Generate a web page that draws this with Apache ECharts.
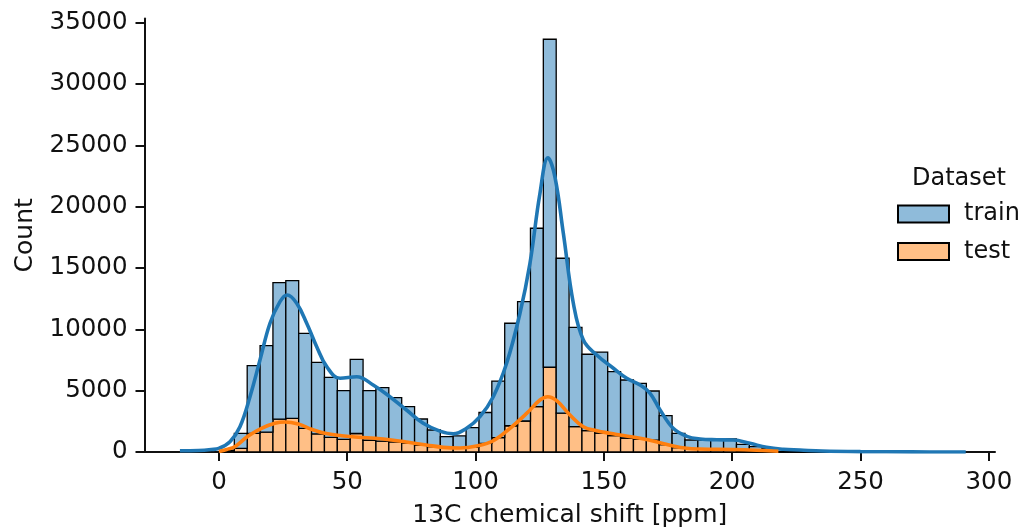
<!DOCTYPE html>
<html>
<head>
<meta charset="utf-8">
<script src="https://cdn.jsdelivr.net/npm/echarts@6/dist/echarts.min.js"></script>
<style>
  html, body { margin: 0; padding: 0; background: #fff; }
  #chart { width: 1025px; height: 531px; }
</style>
</head>
<body>
<div id="chart"></div>
<script>
// ---- data ----
const binStart = 0.98;      // left edge of first bin (ppm)
const binWidth = 5.017;     // bin width (ppm)
const testCounts = [60, 300, 1525, 1620, 2680, 2750, 1920, 1470, 1200, 1035, 1510, 960, 880, 830, 740, 560, 450, 340, 340, 400, 700, 1170, 2140, 2530, 3700, 6910, 3170, 2065, 1740, 1550, 1340, 1140, 1050, 960, 600, 365, 260, 245, 180, 160, 120, 80, 50, 30, 20, 10, 5];
const trainCounts = [90, 1225, 5515, 7050, 11130, 11220, 7760, 5845, 4890, 3965, 6050, 4040, 4365, 3600, 2960, 2130, 1345, 910, 970, 1590, 2520, 4610, 8360, 9730, 14545, 26750, 12630, 8105, 6230, 6600, 5210, 4730, 4550, 4015, 2360, 1160, 720, 735, 800, 900, 505, 355, 250, 190, 130, 90, 55];

// KDE curves (stacked, as drawn): [ppm, count]
const trainKdeX = [-15.2, -8, -3, 0, 4.3, 8.2, 12.1, 16, 19.9, 23.8, 26.6, 30.3, 34.2, 38.1, 42, 47.2, 53.7, 60.1, 66.6, 73.1, 79.6, 86.1, 91.3, 96.5, 101.7, 106.9, 112.1, 117.3, 121.2, 125.1, 128.2, 130.9, 134.2, 138.1, 142, 147.2, 153.7, 158.9, 164.1, 168, 171.9, 177, 182.3, 187.5, 194, 200.4, 206.9, 213.4, 219.9, 226.4, 235, 250, 270, 291];
const trainKdeY = [100, 120, 200, 300, 840, 2065, 4510, 7500, 10500, 12260, 12800, 12130, 10500, 8590, 6960, 6010, 6140, 5465, 4510, 3425, 2340, 1700, 1480, 1930, 2880, 4510, 7235, 11310, 15390, 21100, 24000, 22455, 17840, 12130, 9135, 7910, 6830, 6010, 5465, 4790, 3425, 1930, 1280, 1060, 1000, 980, 710, 380, 220, 160, 80, 30, 10, 0];
const testKdeX = [0, 3, 6.2, 11.4, 16.6, 21.8, 25.7, 30.9, 36.1, 41.3, 47.8, 54.3, 60.8, 67.3, 73.8, 80.9, 87.4, 93.9, 100.4, 106.9, 113.4, 119.9, 125.1, 128.1, 131.6, 136.8, 142, 147.2, 152.4, 156.3, 164.1, 171.9, 177, 182.3, 187.5, 200.4, 209.5, 218];
const testKdeY = [40, 200, 435, 1305, 1930, 2340, 2450, 2285, 1850, 1525, 1330, 1200, 1117, 980, 790, 570, 380, 325, 490, 920, 1930, 3150, 4240, 4510, 4185, 3020, 2065, 1740, 1525, 1387, 1117, 760, 490, 300, 245, 200, 140, 60];

const xTicks = [0, 50, 100, 150, 200, 250, 300];
const yTicks = [0, 5000, 10000, 15000, 20000, 25000, 30000, 35000];

// ---- build ----
const FONT = 'DejaVu Sans';
const INK = '#111111';
const blueFill = '#8fbbda', orangeFill = '#ffbf86';

const testRects = testCounts.map((c, i) => [binStart + i * binWidth, binStart + (i + 1) * binWidth, 0, c]);
const trainRects = trainCounts.map((c, i) => [binStart + i * binWidth, binStart + (i + 1) * binWidth, testCounts[i], testCounts[i] + c]);

function makeRender(fill) {
  return function (params, api) {
    const p0 = api.coord([api.value(0), api.value(2)]);
    const p1 = api.coord([api.value(1), api.value(3)]);
    return {
      type: 'rect',
      shape: { x: p0[0], y: p1[1], width: p1[0] - p0[0], height: p0[1] - p1[1] },
      style: { fill: fill, stroke: '#000', lineWidth: 1.3 }
    };
  };
}

const chart = echarts.init(document.getElementById('chart'), null, { renderer: 'canvas' });
chart.setOption({
  animation: false,
  backgroundColor: '#fff',
  grid: { left: 144.5, right: 30, top: 18.6, bottom: 79, containLabel: false, outerBoundsMode: 'none' },
  title: {
    text: 'Dataset', left: 907, top: 162,
    textStyle: { fontFamily: FONT, fontSize: 24, fontWeight: 'normal', color: INK }
  },
  legend: {
    orient: 'vertical', left: 892, top: 197,
    itemWidth: 51, itemHeight: 17, itemGap: 13.5,
    icon: 'rect',
    textStyle: { fontFamily: FONT, fontSize: 24, color: INK, lineHeight: 24, padding: [0, 0, 0, 10] },
    data: [
      { name: 'train', itemStyle: { color: blueFill, borderColor: '#000', borderWidth: 2 } },
      { name: 'test', itemStyle: { color: orangeFill, borderColor: '#000', borderWidth: 2 } }
    ],
    selectedMode: false
  },
  xAxis: {
    type: 'value', min: -29.0, max: 302.4,
    name: '13C chemical shift [ppm]', nameLocation: 'middle', nameGap: 51,
    nameTextStyle: { fontFamily: FONT, fontSize: 25, color: INK },
    axisLine: { show: true, onZero: false, lineStyle: { color: INK, width: 2 } },
    axisTick: { show: true, length: 9, lineStyle: { color: INK, width: 2 }, customValues: xTicks },
    axisLabel: { fontFamily: FONT, fontSize: 24.5, color: INK, margin: 18, customValues: xTicks,
                 formatter: v => String(v) },
    splitLine: { show: false }
  },
  yAxis: {
    type: 'value', min: 0, max: 35343,
    name: 'Count', nameLocation: 'middle', nameGap: 107, nameRotate: 90,
    nameTextStyle: { fontFamily: FONT, fontSize: 25, color: INK },
    axisLine: { show: true, onZero: false, lineStyle: { color: INK, width: 2 } },
    axisTick: { show: true, length: 9, lineStyle: { color: INK, width: 2 }, customValues: yTicks },
    axisLabel: { fontFamily: FONT, fontSize: 24.5, color: INK, margin: 17, customValues: yTicks,
                 formatter: v => String(v) },
    splitLine: { show: false }
  },
  series: [
    {
      name: 'test', type: 'custom', renderItem: makeRender(orangeFill),
      itemStyle: { color: orangeFill },
      encode: { x: [0, 1], y: [2, 3] }, data: testRects, z: 2
    },
    {
      name: 'train', type: 'custom', renderItem: makeRender(blueFill),
      itemStyle: { color: blueFill },
      encode: { x: [0, 1], y: [2, 3] }, data: trainRects, z: 2
    },
    {
      name: 'train kde', type: 'line', smooth: 0.4, showSymbol: false, symbol: 'none',
      data: trainKdeX.map((x, i) => [x, trainKdeY[i]]),
      lineStyle: { color: '#1f77b4', width: 3.6 }, z: 4
    },
    {
      name: 'test kde', type: 'line', smooth: 0.4, showSymbol: false, symbol: 'none',
      data: testKdeX.map((x, i) => [x, testKdeY[i]]),
      lineStyle: { color: '#ff7f0e', width: 3.6 }, z: 5
    }
  ]
});
</script>
</body>
</html>
